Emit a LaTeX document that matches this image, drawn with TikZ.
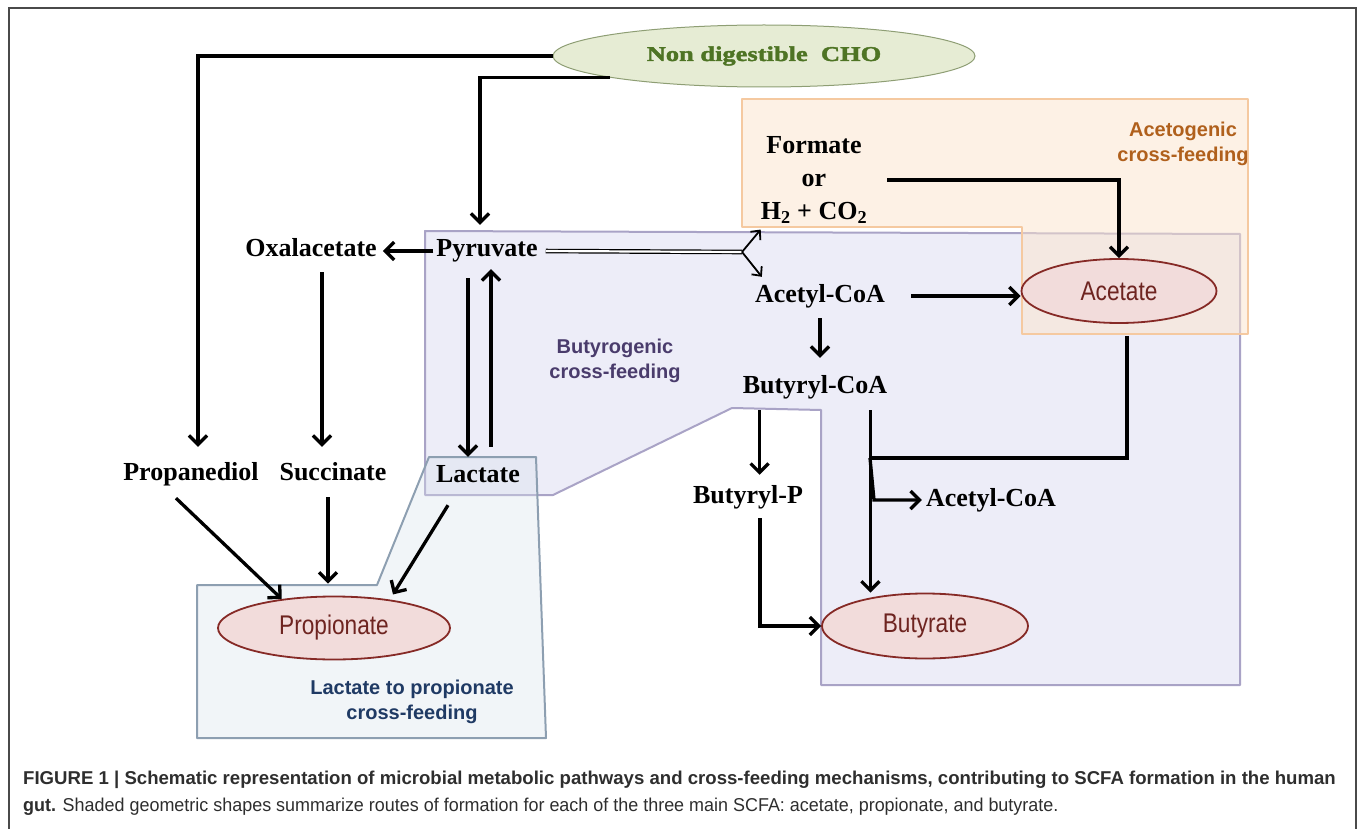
\documentclass[tikz,border=0pt]{standalone}
\usepackage{fontspec}
\setmainfont{Liberation Serif}
\setsansfont{Liberation Sans}
\newfontfamily\chofont[FakeStretch=1.26,FakeBold=2]{Liberation Serif}
\newfontfamily\narrowsf[FakeStretch=0.84]{Liberation Sans}
\newfontfamily\capfont[FakeStretch=0.965]{Liberation Sans}
\usetikzlibrary{arrows.meta,
                shapes.geometric}
\usetikzlibrary{calc}

\definecolor{framegray}{HTML}{4A4A4A}
\definecolor{chofill}{HTML}{E6ECD4}
\definecolor{chodraw}{HTML}{8E9E74}
\definecolor{chotext}{HTML}{4E7424}
\definecolor{lavfill}{HTML}{EDEDF8}
\definecolor{lavedge}{HTML}{A9A3C6}
\definecolor{orafill}{HTML}{FBE4CC}
\definecolor{oraedge}{HTML}{F5C9A0}
\definecolor{profill}{HTML}{D8E1EC}
\definecolor{proedge}{HTML}{8D9FB1}
\definecolor{scfafill}{HTML}{F2DCDB}
\definecolor{scfaedge}{HTML}{862A26}
\definecolor{scfatext}{HTML}{6E2420}
\definecolor{acetotext}{HTML}{B0601C}
\definecolor{butyrtext}{HTML}{4A3C6C}
\definecolor{proptext}{HTML}{1F3A64}
\definecolor{captext}{HTML}{2E2E2E}

\begin{document}
\begin{tikzpicture}[x=1pt,y=-1pt,
    lbl/.style={font=\bfseries\fontsize{26}{33}\selectfont, inner sep=0pt, align=center},
    met/.style={lbl, text height=18pt, text depth=6pt},
    scfa/.style={ellipse, draw=scfaedge, fill=scfafill, line width=1.8pt, inner sep=0pt,
                 text=scfatext, font=\narrowsf\fontsize{27}{30}\selectfont},
    flow/.style={line width=3.3pt, -{Straight Barb[length=9pt,width=18pt]}},
    split/.style={line width=1.8pt, -{Straight Barb[length=7pt,width=13pt]}},
    region/.style={line width=2pt, line join=round},
    tag/.style={font=\sffamily\bfseries\fontsize{20}{25}\selectfont, align=center}]

    % Fix the page size
    \useasboundingbox (0,0) rectangle (1360,829);

    % Outer frame of the figure
    \draw[framegray, line width=1.5pt] (9,829) -- (9,8) -- (1356,8) -- (1356,829);

    % Shaded regions (butyrogenic, lactate to propionate, acetogenic)
    \fill[lavfill] (425,231) -- (1240,234) -- (1240,685) -- (821,685) -- (821,410)
        -- (732,408) -- (553,495) -- (425,495) -- cycle;
    \draw[region, lavedge] (425,231) -- (1240,234) -- (1240,685) -- (821,685) -- (821,410)
        -- (732,408) -- (553,495) -- (425,495) -- cycle;
    \filldraw[region, draw=proedge, fill=profill, fill opacity=0.35]
        (197,585) -- (377,585) -- (429,457) -- (536,457) -- (546,738) -- (197,738) -- cycle;
    \filldraw[region, draw=oraedge, fill=orafill, fill opacity=0.5]
        (742,99) -- (1248,99) -- (1248,334) -- (1022,334) -- (1022,227) -- (742,227) -- cycle;

    % Region labels
    \node[tag, text=acetotext] (acetag) at (1183,144) {Acetogenic\\cross-feeding};
    \node[tag, text=butyrtext] (butyrtag) at (615,361) {Butyrogenic\\cross-feeding};
    \node[tag, text=proptext] (proptag) at (412,702) {Lactate to propionate\\cross-feeding};

    % Substrate
    \node[ellipse, draw=chodraw, fill=chofill, line width=1pt, inner sep=0pt,
          minimum width=422pt, minimum height=62pt, text=chotext,
          font=\chofont\bfseries\fontsize{21}{24}\selectfont] (cho) at (764,56) {Non digestible\ \ CHO};

    % Intermediates
    \node[met] (pyr) at (487,251) {Pyruvate};
    \node[met] (oxa) at (311,251) {Oxalacetate};
    \node[lbl] (frm) at (814,180) {Formate\\or\\H\textsubscript{2} + CO\textsubscript{2}};
    \node[met] (acoa) at (820,296) {Acetyl-CoA};
    \node[met] (bcoa) at (815,387) {Butyryl-CoA};
    \node[met] (bp) at (748,497) {Butyryl-P};
    \node[met] (acoa2) at (991,500) {Acetyl-CoA};
    \node[met] (pdiol) at (191,474) {Propanediol};
    \node[met] (succ) at (333,474) {Succinate};
    \node[met] (lac) at (478,476) {Lactate};

    % End products (SCFA)
    \node[scfa, minimum width=195pt, minimum height=64pt] (ace) at (1119,291) {Acetate};
    \node[scfa, minimum width=232pt, minimum height=63pt] (prop) at (334,628) {Propionate};
    \node[scfa, minimum width=206pt, minimum height=65pt] (but) at (925,626) {Butyrate};

    % Branch points
    \coordinate (fork) at (742,252);
    \coordinate (jct) at (870,458);

    % From CHO
    \draw[flow, shorten >=15pt] (cho.west) -| ([xshift=7pt]pdiol.north);
    \draw[flow, shorten >=14pt] (cho.188) -| ([xshift=-7pt]pyr.north);

    % Around pyruvate
    \draw[flow, shorten <=3pt, shorten >=6pt] (pyr.west) -- (oxa.east);
    \draw[flow, shorten <=9pt, shorten >=15pt] ([xshift=11pt]oxa.south) -- ([xshift=-11pt]succ.north);
    \draw[flow, shorten <=15pt, shorten >=7pt] ([xshift=-19pt]pyr.south) -- ([xshift=-10pt]lac.north);
    \draw[flow, shorten <=17pt, shorten >=6pt] ([xshift=13pt]lac.north) -- ([xshift=4pt]pyr.south);
    \draw[double, double distance=2.2pt, line width=1.2pt, shorten <=8pt] (pyr.east) -- (fork);
    \draw[split] (fork) -- ([yshift=-6pt]frm.south west);
    \draw[split] (fork) -- ([shift={(7pt,7pt)}]acoa.north west);

    % Acetate and butyrate routes
    \draw[flow, shorten <=20pt] (frm.east) -| (ace.north);
    \draw[flow, shorten <=26pt] (acoa.east) -- (acoa.east -| ace.west);
    \draw[flow, shorten <=10pt, shorten >=17pt] (acoa.south) -- (acoa.south |- bcoa.north);
    \draw[flow, shorten <=11pt, shorten >=10pt] ([xshift=17pt]bcoa.south west) -- ([xshift=17pt]bcoa.south west |- bp.north);
    \draw[flow, shorten <=9pt] ([xshift=12pt]bp.south) |- (but.west);
    \draw[flow, shorten <=11pt] ([xshift=-17pt]bcoa.south east) -- ([xshift=-17pt]bcoa.south east |- but.north);
    \draw[line width=3.3pt, shorten <=12pt] ([xshift=8pt]ace.south) |- (jct);
    \draw[flow, shorten >=4pt] (jct) -- ([xshift=4pt]jct |- acoa2.west) -- (acoa2.west);

    % Propionate routes
    \draw[flow] ([shift={(-15pt,-12pt)}]pdiol.south) -- (prop.151);
    \draw[flow, shorten <=11pt, shorten >=12pt] ([xshift=-5pt]succ.south) -- ([xshift=-5pt]succ.south |- prop.north);
    \draw[flow, shorten >=6pt] ([shift={(-30pt,-17pt)}]lac.south) -- (prop.27);

    % Caption
    \node[anchor=west, inner sep=0pt, text=captext, font=\sffamily\bfseries\fontsize{18.6}{22}\selectfont] (cap1) at (23,780)
        {FIGURE 1 | Schematic representation of microbial metabolic pathways and cross-feeding mechanisms, contributing to SCFA formation in the human};
    \node[anchor=west, inner sep=0pt, text=captext, font=\capfont\fontsize{18.6}{22}\selectfont] (cap2) at (23,807)
        {\textbf{gut.} Shaded geometric shapes summarize routes of formation for each of the three main SCFA: acetate, propionate, and butyrate.};
\end{tikzpicture}
\end{document}
